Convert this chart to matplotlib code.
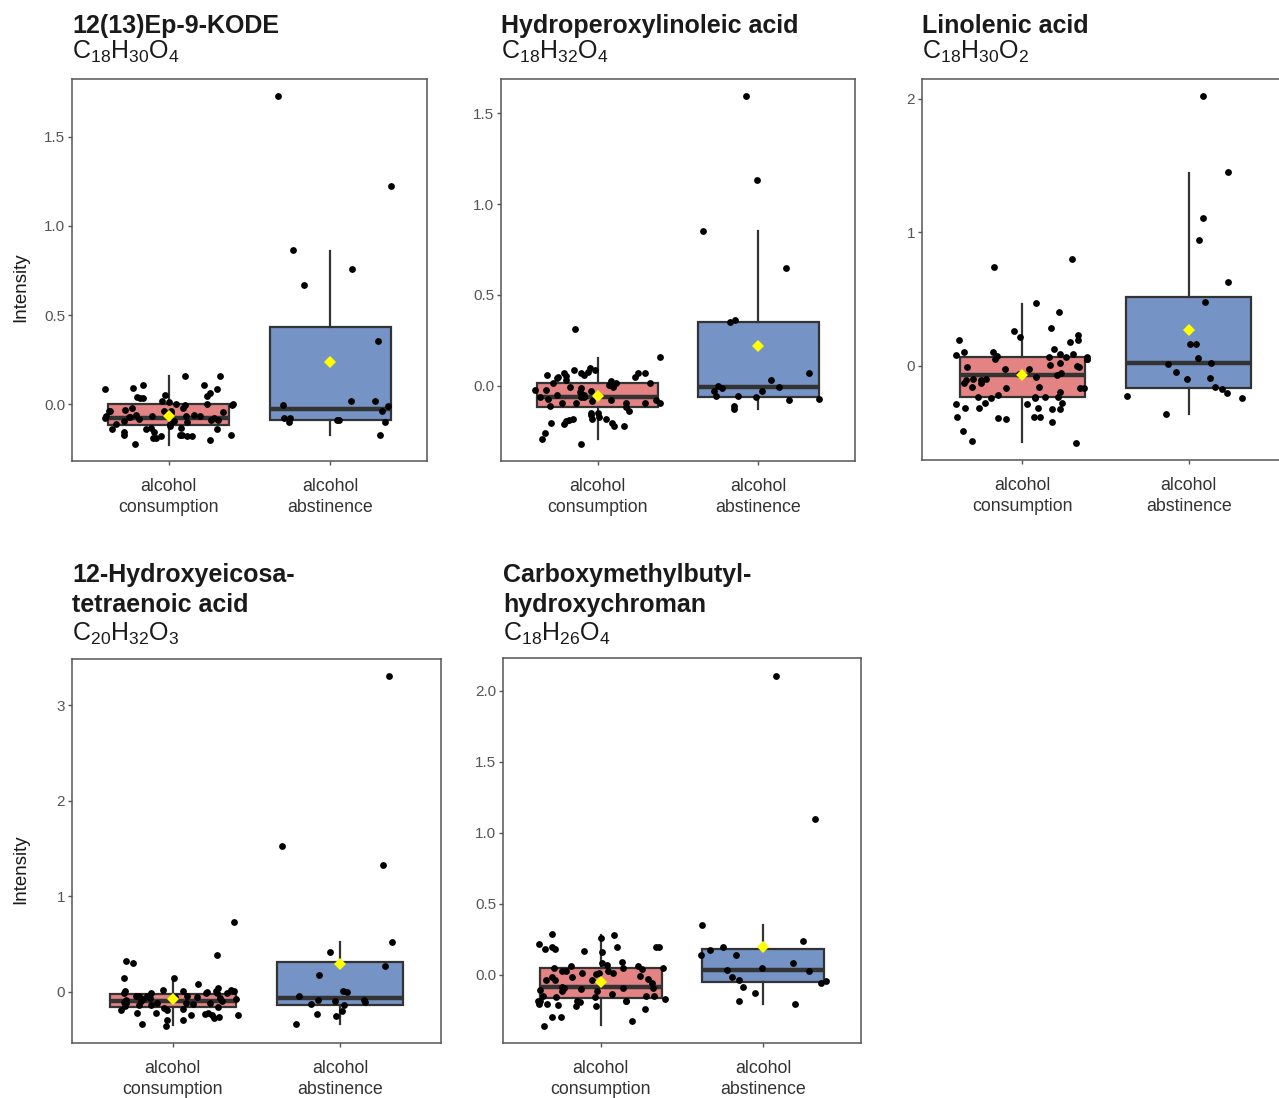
import numpy as np
import matplotlib
matplotlib.use('Agg')
import matplotlib.pyplot as plt

plt.rcParams['font.family'] = ['Liberation Sans', 'DejaVu Sans']
plt.rcParams['mathtext.fontset'] = 'custom'
plt.rcParams['mathtext.rm'] = 'Liberation Sans'
plt.rcParams['mathtext.it'] = 'Liberation Sans:italic'
plt.rcParams['mathtext.bf'] = 'Liberation Sans:bold'

# ---------------- data ----------------
groups = ['alcohol\nconsumption', 'alcohol\nabstinence']

titles = [['12(13)Ep-9-KODE'],
          ['Hydroperoxylinoleic acid'],
          ['Linolenic acid'],
          ['12-Hydroxyeicosa-', 'tetraenoic acid'],
          ['Carboxymethylbutyl-', 'hydroxychroman']]
formulas = [r'$\mathregular{C_{18}H_{30}O_{4}}$',
            r'$\mathregular{C_{18}H_{32}O_{4}}$',
            r'$\mathregular{C_{18}H_{30}O_{2}}$',
            r'$\mathregular{C_{20}H_{32}O_{3}}$',
            r'$\mathregular{C_{18}H_{26}O_{4}}$']

yticks = [[0.0, 0.5, 1.0, 1.5],
          [0.0, 0.5, 1.0, 1.5],
          [0, 1, 2],
          [0, 1, 2, 3],
          [0.0, 0.5, 1.0, 1.5, 2.0]]
yticklabels = [['0.0', '0.5', '1.0', '1.5'],
               ['0.0', '0.5', '1.0', '1.5'],
               ['0', '1', '2'],
               ['0', '1', '2', '3'],
               ['0.0', '0.5', '1.0', '1.5', '2.0']]

# panel 1: 12(13)Ep-9-KODE
p1_cons = [0.159, 0.159, 0.108, 0.092, 0.11, 0.088, 0.085, 0.062, 0.045, 0.05, 0.035, 0.038,
           0.04, 0.021, 0.015, 0.0, 0.0, 0.0, -0.005, -0.005, -0.02, -0.03, -0.02, -0.035,
           -0.04, -0.037, -0.04, -0.045, -0.063, -0.05, -0.06, -0.06, -0.063, -0.07, -0.06,
           -0.07, -0.063, -0.076, -0.085, -0.095, -0.08, -0.085, -0.11, -0.076, -0.1, -0.068,
           -0.11, -0.095, -0.12, -0.14, -0.13, -0.135, -0.138, -0.155, -0.138, -0.173, -0.2,
           -0.187, -0.173, -0.173, -0.173, -0.18, -0.18, -0.155, -0.18, -0.22, -0.19]
p1_abst = [1.725, 1.225, 0.865, 0.758, 0.669, 0.354, 0.02, -0.004, 0.017, -0.01, -0.039,
           -0.088, -0.079, -0.079, -0.099, -0.09, -0.10, -0.17]
# panel 2: Hydroperoxylinoleic acid
p2_cons = [0.311, 0.157, 0.088, 0.048, 0.07, 0.06, 0.1, 0.07, 0.06, 0.088, 0.073, 0.055, 0.042,
           0.048, 0.073, 0.078, 0.033, 0.005, 0.027, 0.015, 0.015, 0.015, -0.013, -0.004,
           -0.022, -0.05, -0.063, -0.05, -0.004, -0.03, -0.077, -0.095, -0.11, -0.095, -0.022,
           -0.036, -0.086, -0.095, -0.095, -0.063, -0.08, -0.117, -0.095, -0.073, -0.064,
           -0.147, -0.136, -0.183, -0.147, -0.187, -0.163, -0.172, -0.18, -0.22, -0.209, -0.22,
           -0.26, -0.205, -0.183, -0.205, -0.196, -0.293, -0.318]
p2_abst = [1.593, 1.132, 0.852, 0.648, 0.36, 0.35, 0.07, 0.033, -0.005, -0.03, -0.01, -0.03,
           0.0, -0.055, -0.057, -0.062, -0.07, -0.08, -0.128, -0.113]
# panel 3: Linolenic acid
p3_cons = [0.80, 0.74, 0.474, 0.402, 0.287, 0.232, 0.182, 0.192, 0.192, 0.264, 0.215, 0.103,
           0.082, 0.065, 0.065, 0.025, 0.077, 0.065, 0.05, 0.127, 0.107, 0.09, 0.05, 0.05, 0.09,
           0.0, 0.007, -0.022, -0.009, -0.009, -0.025, -0.08, -0.06, -0.055, -0.13, -0.13,
           -0.155, -0.167, -0.1, -0.1, -0.163, -0.16, -0.192, -0.104, -0.167, -0.067, -0.217,
           -0.104, -0.237, -0.23, -0.242, -0.235, -0.235, -0.23, -0.28, -0.28, -0.325, -0.312,
           -0.284, -0.317, -0.325, -0.288, -0.317, -0.385, -0.38, -0.387, -0.422, -0.385, -0.4,
           -0.485, -0.562, -0.575]
p3_abst = [2.02, 1.45, 1.109, 0.944, 0.63, 0.477, 0.162, 0.165, 0.062, 0.015, 0.025, -0.047,
           -0.092, -0.1, -0.172, -0.16, -0.222, -0.205, -0.242, -0.362]
# panel 4: 12-Hydroxyeicosatetraenoic acid
p4_cons = [0.73, 0.3, 0.387, 0.324, 0.143, 0.143, 0.084, 0.038, 0.02, 0.003, 0.003, -0.014,
           0.003, -0.007, -0.014, 0.014, 0.003, -0.014, -0.014, -0.014, -0.049, -0.066, -0.049,
           -0.076, -0.055, -0.055, -0.076, -0.049, -0.07, -0.055, -0.084, -0.049, -0.1, -0.118,
           -0.1, -0.118, -0.111, -0.136, -0.118, -0.125, -0.16, -0.118, -0.136, -0.146, -0.188,
           -0.17, -0.18, -0.22, -0.24, -0.188, -0.22, -0.22, -0.24, -0.275, -0.265, -0.24,
           -0.293, -0.237, -0.3, -0.355, -0.338]
p4_abst = [3.30, 1.526, 1.327, 0.515, 0.415, 0.272, 0.17, 0.003, -0.007, -0.042, -0.09, -0.125,
           -0.1, -0.084, -0.108, -0.143, -0.25, -0.2, -0.233, -0.338]
# panel 5: Carboxymethylbutylhydroxychroman
p5_cons = [0.286, 0.258, 0.275, 0.216, 0.181, 0.192, 0.181, 0.192, 0.197, 0.197, 0.169, 0.162,
           0.087, 0.063, 0.047, 0.063, 0.047, 0.08, 0.04, 0.07, 0.047, 0.028, 0.028, 0.009,
           0.009, 0.009, 0.023, -0.007, -0.031, -0.019, 0.005, -0.019, -0.042, -0.061, -0.038,
           -0.042, -0.094, -0.113, -0.094, -0.094, -0.108, -0.089, -0.101, -0.113, -0.148,
           -0.183, -0.195, -0.188, -0.16, -0.171, -0.155, -0.183, -0.148, -0.188, -0.148,
           -0.136, -0.225, -0.183, -0.207, -0.218, -0.211, -0.242, -0.223, -0.296, -0.329,
           -0.3, -0.359]
p5_abst = [2.106, 1.092, 0.352, 0.239, 0.192, 0.176, 0.141, 0.141, 0.08, 0.047, 0.023, 0.033,
           -0.038, -0.014, -0.049, -0.061, -0.089, -0.129, -0.183, -0.207]

# box statistics: [q1, median, q3, whisker low, whisker high, mean]
p1_box_cons = [-0.118, -0.077, 0.0, -0.23, 0.157, -0.067]
p1_box_abst = [-0.088, -0.026, 0.433, -0.17, 0.86, 0.236]
p2_box_cons = [-0.119, -0.059, 0.015, -0.291, 0.152, -0.055]
p2_box_abst = [-0.062, -0.009, 0.353, -0.128, 0.852, 0.22]
p3_box_cons = [-0.235, -0.067, 0.065, -0.572, 0.464, -0.067]
p3_box_abst = [-0.167, 0.025, 0.519, -0.362, 1.446, 0.27]
p4_box_cons = [-0.16, -0.094, -0.021, -0.345, 0.136, -0.073]
p4_box_abst = [-0.136, -0.063, 0.306, -0.338, 0.515, 0.289]
p5_box_cons = [-0.167, -0.089, 0.047, -0.352, 0.279, -0.054]
p5_box_abst = [-0.054, 0.035, 0.181, -0.207, 0.35, 0.192]

points = [(p1_cons, p1_abst), (p2_cons, p2_abst), (p3_cons, p3_abst),
          (p4_cons, p4_abst), (p5_cons, p5_abst)]
boxes = [(p1_box_cons, p1_box_abst), (p2_box_cons, p2_box_abst), (p3_box_cons, p3_box_abst),
         (p4_box_cons, p4_box_abst), (p5_box_cons, p5_box_abst)]

# ---------------- layout / style ----------------
W, H = 1279, 1098
fig = plt.figure(figsize=(W / 100, H / 100), dpi=100)

# panel rectangles in pixels: left, top, right, bottom
rects = [(72, 79, 427, 461), (501, 79, 855, 461), (922, 79, 1289, 460),
         (72, 659, 441, 1043), (503, 658, 861, 1043)]
title_baselines = [[33], [33], [33], [582, 612], [582, 612]]
formula_baselines = [59, 59, 59, 641, 641]
fills = ['#E38383', '#7593C4']
edge = '#333333'
spine_c = '#555555'

for i in range(5):
    l, t, r, b = rects[i]
    ax = fig.add_axes([l / W, 1 - b / H, (r - l) / W, (b - t) / H])
    cons, abst = points[i]
    bc, ba = boxes[i]
    stats = []
    for s, lab in zip((bc, ba), groups):
        stats.append(dict(q1=s[0], med=s[1], q3=s[2], whislo=s[3], whishi=s[4],
                          fliers=[], label=lab))
    bp = ax.bxp(stats, positions=[1, 2], widths=0.75, showfliers=False, showcaps=False,
                patch_artist=True, zorder=1,
                boxprops=dict(edgecolor=edge, linewidth=1.6),
                medianprops=dict(color=edge, linewidth=3.2, solid_capstyle='butt'),
                whiskerprops=dict(color=edge, linewidth=1.6))
    for patch, fc in zip(bp['boxes'], fills):
        patch.set_facecolor(fc)

    rng = np.random.default_rng(7 + i)
    for k, vals in enumerate((cons, abst)):
        xs = (k + 1) + rng.uniform(-0.4, 0.4, len(vals))
        ax.scatter(xs, vals, s=24, color='black', linewidths=0, zorder=3)
    ax.plot([1, 2], [bc[5], ba[5]], linestyle='none', marker='D', markersize=6.5,
            color='#FFFF00', markeredgewidth=0, zorder=4)

    allv = np.array(list(cons) + list(abst))
    lo, hi = allv.min(), allv.max()
    pad = 0.05 * (hi - lo)
    ax.set_ylim(lo - pad, hi + pad)
    ax.set_xlim(0.4, 2.6)
    ax.set_yticks(yticks[i])
    ax.set_yticklabels(yticklabels[i])
    ax.set_xticks([1, 2])
    ax.set_xticklabels(groups, linespacing=1.32)
    for sp in ax.spines.values():
        sp.set_color(spine_c)
        sp.set_linewidth(1.1)
    ax.tick_params(axis='y', length=3.0, width=1.0, color=spine_c, labelsize=11,
                   labelcolor='#555555', pad=2)
    ax.tick_params(axis='x', length=3.0, width=1.0, color=spine_c, labelsize=12.8,
                   labelcolor='#333333', pad=9)
    ax.set_facecolor('white')

    for line, bl in zip(titles[i], title_baselines[i]):
        fig.text(l / W, 1 - bl / H, line, fontsize=18, fontweight='bold', color='#1a1a1a',
                 ha='left', va='baseline')
    fig.text(l / W, 1 - formula_baselines[i] / H, formulas[i], fontsize=18, color='#1a1a1a',
             ha='left', va='baseline')

fig.text(21 / W, 1 - 287 / H, 'Intensity', rotation=90, fontsize=13.5, color='#1a1a1a',
         ha='center', va='center')
fig.text(21 / W, 1 - 869 / H, 'Intensity', rotation=90, fontsize=13.5, color='#1a1a1a',
         ha='center', va='center')

fig.savefig('out.png', dpi=100, facecolor='white')
